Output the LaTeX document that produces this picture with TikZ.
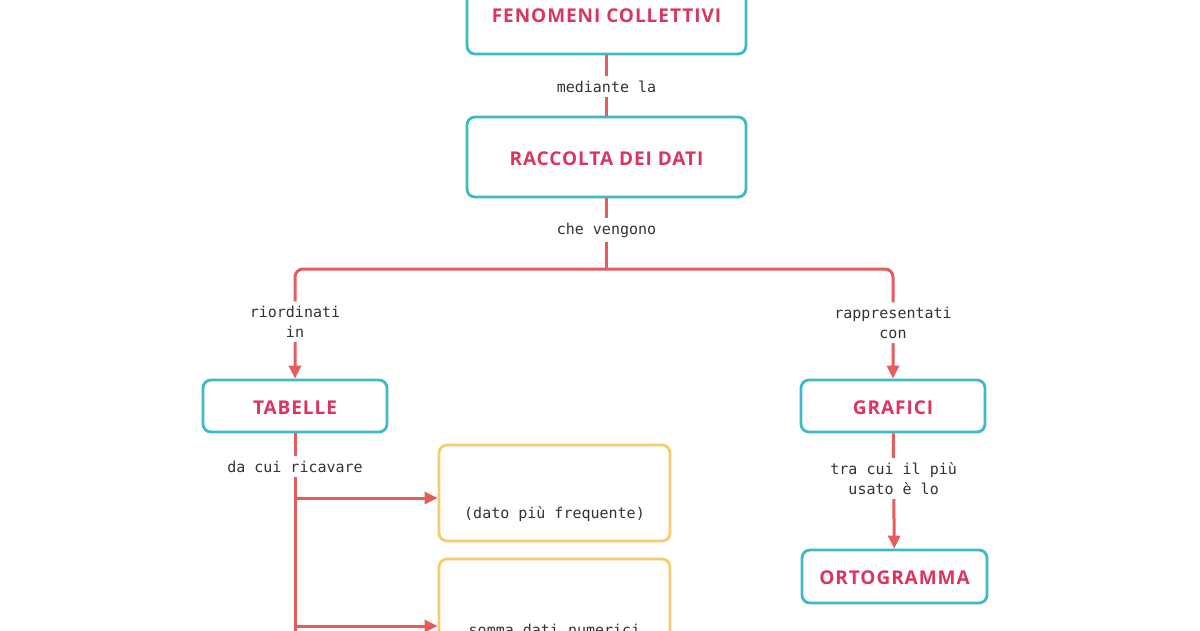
\documentclass[tikz,border=0pt]{standalone}
\usepackage{fontspec}
\usetikzlibrary{arrows.meta,calc}
\newfontfamily\ttlfam{Open Sans}[LetterSpace=5]
\newfontfamily\lblfam{DejaVu Sans Mono}
\definecolor{titlec}{HTML}{DC3460}
\definecolor{cyanc}{HTML}{3DB9CB}
\definecolor{redc}{HTML}{E65C5C}
\definecolor{yelc}{HTML}{F6CD6E}
\definecolor{txtc}{HTML}{333333}
\tikzset{
  cbox/.style={draw=cyanc, line width=2.8pt, rounded corners=8pt, fill=white, text=titlec,
    font=\ttlfam\bfseries\fontsize{19}{23}\selectfont, inner sep=0pt,
    text height=16.5pt, text depth=0pt},
  ybox/.style={draw=yelc, line width=2.8pt, rounded corners=8pt, fill=white, inner sep=0pt,
    minimum width=231pt, minimum height=96pt},
  lbl/.style={fill=white, font=\lblfam\fontsize{15}{20}\selectfont, text=txtc, align=center,
    inner xsep=2pt, inner ysep=4.5pt},
  conn/.style={draw=redc, line width=3pt},
  arr/.style={conn, -{Triangle[length=13pt,width=12pt]}}
}
\begin{document}
\begin{tikzpicture}[x=1pt,y=-1pt]
\useasboundingbox (0,0) rectangle (1200,630);
\clip (0,0) rectangle (1200,630);
\fill[white] (0,0) rectangle (1200,630);
% boxes
\node[cbox, minimum width=279pt, minimum height=80pt] (fen) at (606.5,14) {FENOMENI COLLETTIVI};
\node[cbox, minimum width=279pt, minimum height=80pt] (rac) at (606.5,157) {RACCOLTA DEI DATI};
\node[cbox, minimum width=184pt, minimum height=52pt] (tab) at (295,406) {TABELLE};
\node[cbox, minimum width=184pt, minimum height=52pt] (gra) at (893,406) {GRAFICI};
\node[cbox, minimum width=185pt, minimum height=53pt] (ort) at (894.5,576.5) {ORTOGRAMMA};
\node[ybox] (y1) at (554.5,493) {};
\node[ybox] (y2) at (554.5,607) {};
\node[lbl, fill=none] (y1t) at (554.5,514) {(dato più frequente)};
\node[lbl, fill=none] (y2t) at (554.5,630) {somma dati numerici};
% coordinates
\coordinate (j) at (606.5,269);
\coordinate (b) at (295,640);
\coordinate (t1) at (295,498);
\coordinate (t2) at (295,626);
% connectors
\draw[conn] (fen) -- node[lbl, pos=0.52]{mediante la} (rac);
\draw[conn] (rac) -- node[lbl, pos=0.45]{che vengono} (j);
\draw[arr, rounded corners=8pt] (j) -| node[lbl, pos=0.74]{riordinati\\in} (tab);
\draw[arr, rounded corners=8pt] (j) -| node[lbl, pos=0.745]{rappresentati\\con} (gra);
\draw[arr] (gra) -- node[lbl, pos=0.39]{tra cui il più\\usato è lo} (ort);
\draw[conn] (tab) -- node[lbl, pos=0.16]{da cui ricavare} (b);
\draw[arr] (t1) -- (t1 -| y1.west);
\draw[arr] (t2) -- (t2 -| y2.west);
\end{tikzpicture}
\end{document}
